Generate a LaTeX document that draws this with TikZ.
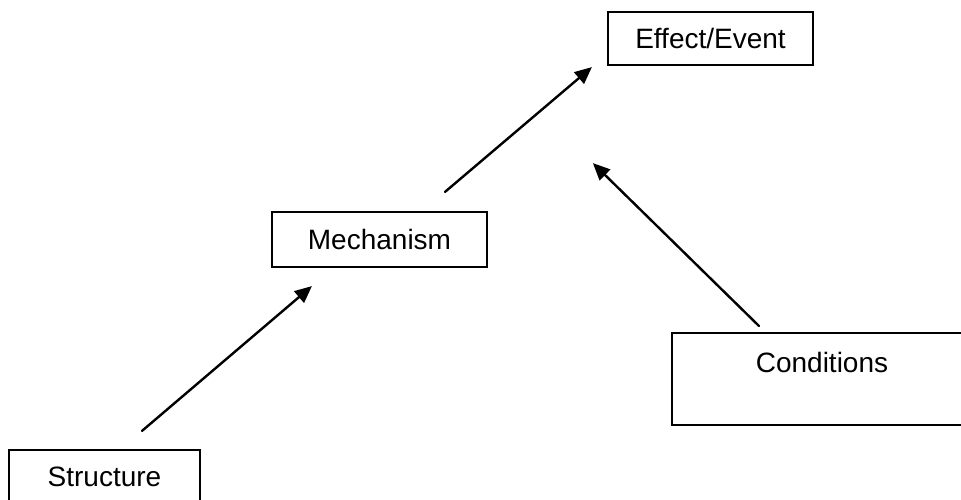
\documentclass[tikz,border=0pt]{standalone}
\usepackage{fontspec}
\setmainfont{Liberation Sans}
\usetikzlibrary{arrows.meta}
\begin{document}
\begin{tikzpicture}[x=1pt,y=-1pt,
  box/.style={draw=black, line width=2.2pt, fill=white, inner sep=0pt,
    text height=20pt, text depth=0pt,
    font=\fontsize{28}{33}\selectfont},
  link/.style={line width=2.4pt, line cap=round,
    -{Triangle[length=17pt,width=15pt]}}]
\useasboundingbox (0,0) rectangle (961,499);
\clip (0,0) rectangle (961,499);

% the four stages
\node[box, minimum width=205pt, minimum height=53pt] (effect) at (710.5,38.5) {Effect/Event};
\node[box, minimum width=215pt, minimum height=55pt] (mech) at (379.5,239.5) {Mechanism};
\node[box, minimum width=300pt, minimum height=92pt,
      text height=20pt, text depth=32.6pt] (cond) at (822,379) {Conditions};
\node[box, minimum width=191pt, minimum height=53pt] (struct) at (104.5,476.5) {Structure};

% free end of the conditions arrow
\coordinate (condtip) at ([shift={(-14,97)}]effect.south west);

% causal links
\draw[link] ([shift={(37.5,-18)}]struct.north) -- ([shift={(41,18)}]mech.south west);
\draw[link] ([shift={(65.5,-19)}]mech.north) -- ([shift={(-15,1)}]effect.south west);
\draw[link] ([shift={(88,-6)}]cond.north west) -- (condtip);
\end{tikzpicture}
\end{document}
